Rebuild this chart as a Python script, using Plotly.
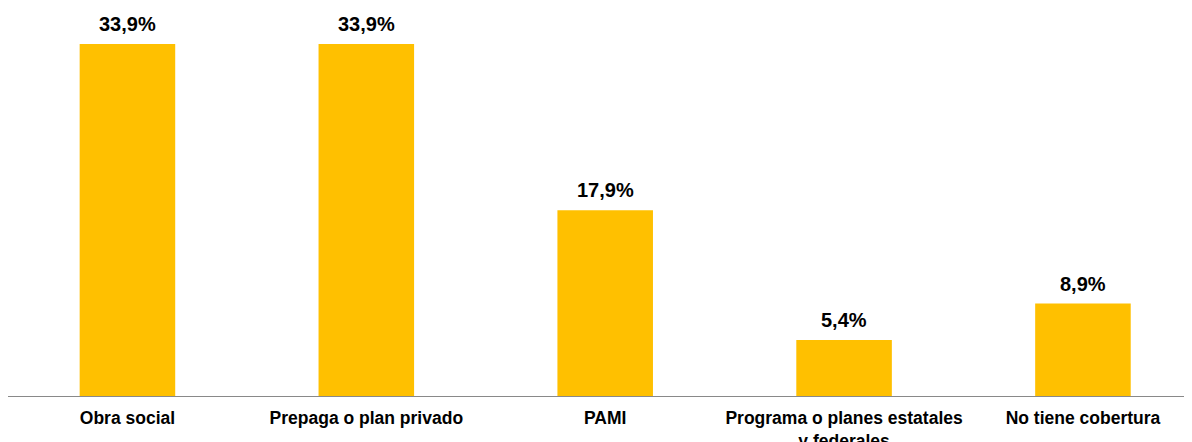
import plotly.graph_objects as go

categorias = ["Obra social", "Prepaga o plan privado", "PAMI",
              "Programa o planes estatales<br>y federales", "No tiene cobertura"]
valores = [33.9, 33.9, 17.9, 5.4, 8.9]
etiquetas = ["33,9%", "33,9%", "17,9%", "5,4%", "8,9%"]

fig = go.Figure(go.Bar(x=categorias, y=valores, marker_color="#FFC000",
                       marker_line_width=0, width=0.4, hoverinfo="skip"))

for c, v, t in zip(categorias, valores, etiquetas):
    fig.add_annotation(x=c, y=v, text="<b>" + t + "</b>", showarrow=False,
                       yanchor="bottom", yshift=7,
                       font=dict(size=20, color="#000000", family="Liberation Sans, Arial"))

fig.update_layout(
    width=1192, height=442,
    margin=dict(l=0, r=0, t=2, b=54),
    plot_bgcolor="white", paper_bgcolor="white",
    showlegend=False,
    font=dict(family="Liberation Sans, Arial", color="#000000"),
)
fig.update_xaxes(range=[-0.5, 4.49], showline=True, linecolor="#898989", linewidth=1,
                 ticks="", tickfont=dict(size=17.5, family="Liberation Sans, Arial", color="#000000"),
                 tickprefix="<b>", ticksuffix="</b>", ticklabelstandoff=6)
fig.update_yaxes(range=[0, 37.18], visible=False, showgrid=False)

fig.write_html("out.html")
